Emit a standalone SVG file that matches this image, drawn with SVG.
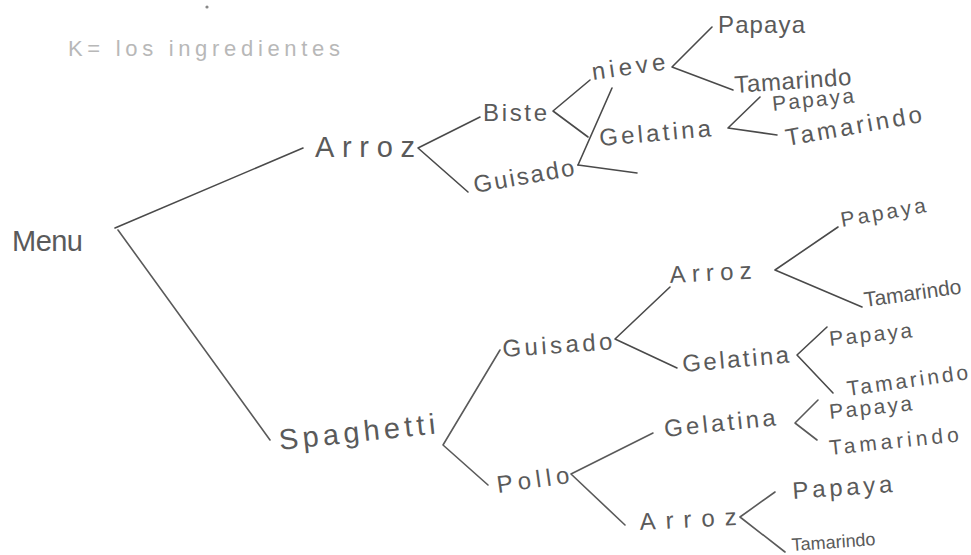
<svg xmlns="http://www.w3.org/2000/svg" width="971" height="555" viewBox="0 0 971 555">
  <style>
    .lbl { font-family: "Liberation Sans", "DejaVu Sans", sans-serif; fill: #5a5a5a; font-size: 24px; }
    .big { font-size: 29px; }
    .sm { font-size: 21px; }
    .xs { font-size: 18px; }
    .note { font-family: "Liberation Sans", sans-serif; fill: #b8b8b8; font-size: 22px; }
    .edge { fill: none; stroke: #4a4a4a; stroke-width: 1.6; stroke-linecap: round; stroke-linejoin: round; }
    .edge.lo { stroke: #5a5a5a; }
  </style>
  <rect width="971" height="555" fill="#ffffff"/>

  <!-- faint heading -->
  <circle cx="207" cy="7" r="1.6" fill="#888"/>
  <text class="note" x="68" y="56" textLength="272" lengthAdjust="spacing">K= los ingredientes</text>

  <!-- connectors -->
  <g id="connectors">
    <path class="edge" d="M115,228 L303,148"/>
    <path class="edge lo" d="M118,230 L270,440"/>
    <path class="edge" d="M480,117 L418,148 L468,192"/>
    <path class="edge" d="M590,80 L553,111 L588,137"/>
    <path class="edge" d="M712,27 L672,67 L733,90"/>
    <path class="edge" d="M612,88 L578,165"/>
    <path class="edge" d="M578,165 L637,173"/>
    <path class="edge" d="M760,97 L728,128 L777,135"/>
    <path class="edge lo" d="M500,350 L443,445 L488,485"/>
    <path class="edge" d="M670,287 L615,339 L677,368"/>
    <path class="edge" d="M838,227 L775,270 L862,307"/>
    <path class="edge" d="M827,327 L797,355 L833,393"/>
    <path class="edge lo" d="M653,433 L571,474 L625,525"/>
    <path class="edge lo" d="M818,400 L795,423 L817,440"/>
    <path class="edge lo" d="M775,492 L740,517 L785,552"/>
  </g>

  <!-- root -->
  <g id="menu"><text class="lbl big" x="12" y="251" textLength="71" lengthAdjust="spacing">Menu</text></g>

  <!-- upper branch -->
  <g id="arroz-1"><text class="lbl big" x="315" y="157" textLength="100" lengthAdjust="spacing">Arroz</text></g>
  <g id="biste"><text class="lbl" x="483" y="121" textLength="64" lengthAdjust="spacing">Biste</text></g>
  <g id="guisado-1"><text class="lbl" x="475" y="193" textLength="102" lengthAdjust="spacing" transform="rotate(-10 475 193)">Guisado</text></g>
  <g id="nieve"><text class="lbl" x="593" y="80" textLength="74" lengthAdjust="spacing" transform="rotate(-8 593 80)">nieve</text></g>
  <g id="papaya-1"><text class="lbl" x="718" y="33" textLength="87" lengthAdjust="spacing">Papaya</text></g>
  <g id="tamarindo-1"><text class="lbl" x="735" y="93" textLength="117" lengthAdjust="spacing" transform="rotate(-4 735 93)">Tamarindo</text></g>
  <g id="gelatina-1"><text class="lbl" x="600" y="146" textLength="112" lengthAdjust="spacing" transform="rotate(-5 600 146)">Gelatina</text></g>
  <g id="papaya-2"><text class="lbl sm" x="773" y="111" textLength="82" lengthAdjust="spacing" transform="rotate(-6 773 111)">Papaya</text></g>
  <g id="tamarindo-2"><text class="lbl" x="787" y="146" textLength="138" lengthAdjust="spacing" transform="rotate(-10 787 146)">Tamarindo</text></g>

  <!-- lower branch -->
  <g id="spaghetti"><text class="lbl big" x="280" y="450" textLength="157" lengthAdjust="spacing" transform="rotate(-6 280 450)">Spaghetti</text></g>
  <g id="guisado-2"><text class="lbl" x="503" y="357" textLength="110" lengthAdjust="spacing" transform="rotate(-4 503 357)">Guisado</text></g>
  <g id="arroz-2"><text class="lbl" x="670" y="283" textLength="82" lengthAdjust="spacing" transform="rotate(-3 670 283)">Arroz</text></g>
  <g id="papaya-3"><text class="lbl sm" x="842" y="227" textLength="86" lengthAdjust="spacing" transform="rotate(-10 842 227)">Papaya</text></g>
  <g id="tamarindo-3"><text class="lbl sm" x="865" y="307" transform="rotate(-8 865 307)">Tamarindo</text></g>
  <g id="gelatina-2"><text class="lbl" x="683" y="372" textLength="107" lengthAdjust="spacing" transform="rotate(-5 683 372)">Gelatina</text></g>
  <g id="papaya-4"><text class="lbl sm" x="830" y="346" textLength="83" lengthAdjust="spacing" transform="rotate(-6 830 346)">Papaya</text></g>
  <g id="tamarindo-4"><text class="lbl sm" x="848" y="396" textLength="122" lengthAdjust="spacing" transform="rotate(-8 848 396)">Tamarindo</text></g>
  <g id="pollo"><text class="lbl" x="498" y="493" textLength="73" lengthAdjust="spacing" transform="rotate(-8 498 493)">Pollo</text></g>
  <g id="gelatina-3"><text class="lbl" x="665" y="437" textLength="112" lengthAdjust="spacing" transform="rotate(-6 665 437)">Gelatina</text></g>
  <g id="papaya-5"><text class="lbl sm" x="830" y="419" textLength="83" lengthAdjust="spacing" transform="rotate(-6 830 419)">Papaya</text></g>
  <g id="tamarindo-5"><text class="lbl sm" x="830" y="455" textLength="130" lengthAdjust="spacing" transform="rotate(-6 830 455)">Tamarindo</text></g>
  <g id="arroz-3"><text class="lbl" x="640" y="530" textLength="97" lengthAdjust="spacing" transform="rotate(-3 640 530)">Arroz</text></g>
  <g id="papaya-6"><text class="lbl" x="793" y="499" textLength="100" lengthAdjust="spacing" transform="rotate(-4 793 499)">Papaya</text></g>
  <g id="tamarindo-6"><text class="lbl xs" x="792" y="551" transform="rotate(-4 792 551)">Tamarindo</text></g>
</svg>
